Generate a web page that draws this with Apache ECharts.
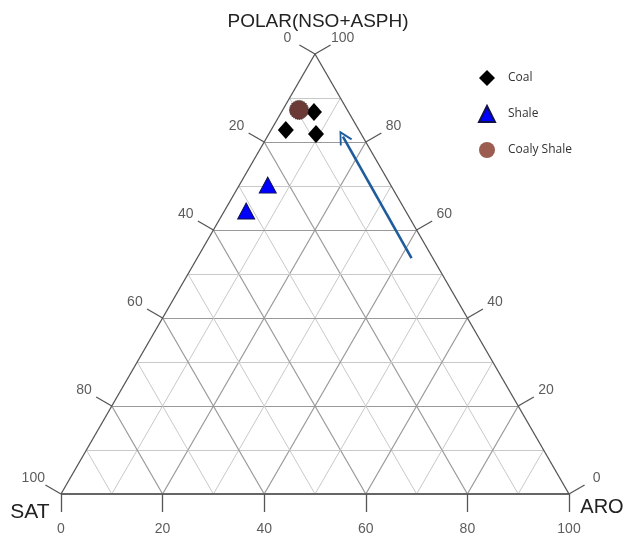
<!DOCTYPE html>
<html>
<head>
<meta charset="utf-8">
<script src="https://cdn.jsdelivr.net/npm/echarts@6/dist/echarts.min.js"></script>
<style>
  html, body { margin: 0; padding: 0; background: #fff; }
  #chart { width: 627px; height: 537px; }
</style>
</head>
<body>
<div id="chart"></div>
<script>
// Sample compositions (%): saturates, aromatics, polars (NSO + asphaltenes)
const coalSat   = [6.8, 14.4, 8.9];
const coalAro   = [6.4, 2.9, 9.3];
const coalPolar = [86.8, 82.7, 81.8];

const shaleSat   = [24.2, 31.4];
const shaleAro   = [5.6, 4.3];
const shalePolar = [70.2, 64.3];

const coalyShaleSat   = [9.5];
const coalyShaleAro   = [3.2];
const coalyShalePolar = [87.3];

// Trend arrow: start and end compositions
const arrowSat   = [4.2, 3.9];
const arrowAro   = [42.2, 14.9];
const arrowPolar = [53.6, 81.2];

const tickValues = [0, 20, 40, 60, 80, 100];
const gridSteps  = [10, 20, 30, 40, 50, 60, 70, 80, 90];

const H = Math.sqrt(3) / 2;
// ternary (sat, aro, polar) -> plane coordinates on a 0..100 wide equilateral triangle
function toXY(sat, aro, polar) {
  const t = sat + aro + polar;
  return [(aro + polar / 2) / t * 100, polar / t * 100 * H];
}
function pts(s, a, p) { return s.map((v, i) => toXY(v, a[i], p[i])); }

const PX = 508 / 100;              // pixels per plot unit
const tickLen = 18 / PX;
const labelDist = 32 / PX;
const bottomLabelDist = 35 / PX;

// grid lines
const gridLines = [];
gridSteps.forEach(k => {
  const major = k % 20 === 0;
  const lineStyle = { color: major ? '#999' : '#c9c9c9', width: major ? 1.2 : 1 };
  gridLines.push({ coords: [toXY(100 - k, 0, k), toXY(0, 100 - k, k)], lineStyle });
  gridLines.push({ coords: [toXY(100 - k, k, 0), toXY(0, k, 100 - k)], lineStyle });
  gridLines.push({ coords: [toXY(k, 100 - k, 0), toXY(k, 0, 100 - k)], lineStyle });
});
const edgeLines = [
  { coords: [toXY(100, 0, 0), toXY(0, 100, 0)], lineStyle: { color: '#666', width: 1.8 } },
  { coords: [toXY(100, 0, 0), toXY(0, 0, 100)], lineStyle: { color: '#555', width: 1.3 } },
  { coords: [toXY(0, 100, 0), toXY(0, 0, 100)], lineStyle: { color: '#555', width: 1.3 } }
];

// axis ticks and labels
const tickLines = [];
const tickLabels = [];
const dirLeft = [-H, 0.5], dirRight = [H, 0.5];
tickValues.forEach(v => {
  // left edge: saturates
  let p = toXY(v, 0, 100 - v);
  tickLines.push({ coords: [p, [p[0] + dirLeft[0] * tickLen, p[1] + dirLeft[1] * tickLen]] });
  tickLabels.push({ value: [p[0] + dirLeft[0] * labelDist, p[1] + dirLeft[1] * labelDist], label: { formatter: String(v) } });
  // right edge: polars
  p = toXY(0, 100 - v, v);
  tickLines.push({ coords: [p, [p[0] + dirRight[0] * tickLen, p[1] + dirRight[1] * tickLen]] });
  tickLabels.push({ value: [p[0] + dirRight[0] * labelDist, p[1] + dirRight[1] * labelDist], label: { formatter: String(v) } });
  // bottom edge: aromatics
  p = toXY(100 - v, v, 0);
  tickLines.push({ coords: [p, [p[0], p[1] - tickLen]] });
  tickLabels.push({ value: [p[0], p[1] - bottomLabelDist], label: { formatter: String(v) } });
});

const arrowPts = pts(arrowSat, arrowAro, arrowPolar);

const chart = echarts.init(document.getElementById('chart'), null, { renderer: 'canvas' });
const FONT = 'Liberation Sans, Arial, sans-serif';

chart.setOption({
  animation: false,
  backgroundColor: '#fff',
  grid: { left: 61, right: 58, top: 54, bottom: 43 },
  xAxis: { type: 'value', min: 0, max: 100, show: false },
  yAxis: { type: 'value', min: 0, max: 100 * H, show: false },
  graphic: [
    { type: 'text', x: 318, y: 22, style: { text: 'POLAR(NSO+ASPH)', font: '19px ' + FONT, fill: '#222', align: 'center', verticalAlign: 'middle' } },
    { type: 'text', x: 30, y: 512, style: { text: 'SAT', font: '21px ' + FONT, fill: '#222', align: 'center', verticalAlign: 'middle' } },
    { type: 'text', x: 602, y: 507, style: { text: 'ARO', font: '20px ' + FONT, fill: '#222', align: 'center', verticalAlign: 'middle' } }
  ],
  legend: {
    orient: 'vertical',
    left: 473, top: 65,
    itemWidth: 16, itemHeight: 16, itemGap: 19,
    textStyle: { fontFamily: 'Open Sans, sans-serif', fontSize: 12, color: '#333', padding: [0, 0, 0, 8] },
    data: [
      { name: 'Coal' },
      { name: 'Shale' },
      { name: 'Coaly Shale', itemStyle: { color: '#9a5d50', borderWidth: 0, opacity: 1 } }
    ]
  },
  series: [
    { type: 'lines', coordinateSystem: 'cartesian2d', silent: true, clip: false, z: 1,
      lineStyle: { width: 1, opacity: 1 }, data: gridLines },
    { type: 'lines', coordinateSystem: 'cartesian2d', silent: true, clip: false, z: 2,
      lineStyle: { opacity: 1 }, data: edgeLines },
    { type: 'lines', coordinateSystem: 'cartesian2d', silent: true, clip: false, z: 2,
      lineStyle: { color: '#555', width: 1.3, opacity: 1 }, data: tickLines },
    { type: 'scatter', silent: true, clip: false, symbolSize: 1, z: 2,
      itemStyle: { color: 'rgba(0,0,0,0)' },
      labelLayout: { hideOverlap: false },
      label: { show: true, position: 'inside', color: '#333', fontSize: 14, fontFamily: FONT },
      data: tickLabels },
    { type: 'lines', coordinateSystem: 'cartesian2d', silent: true, clip: false, z: 3,
      symbol: ['none', 'path://M0,0 L6,9 L4.6,9.6 L0,2.6 L-4.6,9.6 L-6,9 Z'], symbolSize: 14,
      lineStyle: { color: '#1f5c9c', width: 2.6, opacity: 1 },
      data: [{ coords: arrowPts }] },
    { name: 'Coal', type: 'scatter', clip: false, z: 4, symbol: 'diamond', symbolSize: [16, 18],
      itemStyle: { color: '#000', opacity: 1 },
      data: pts(coalSat, coalAro, coalPolar) },
    { name: 'Shale', type: 'scatter', clip: false, z: 4, symbol: 'triangle', symbolSize: [17, 16],
      itemStyle: { color: '#0000ff', borderColor: '#10104a', borderWidth: 1, opacity: 1 },
      data: pts(shaleSat, shaleAro, shalePolar) },
    { name: 'Coaly Shale', type: 'scatter', clip: false, z: 5, symbol: 'circle', symbolSize: 19,
      itemStyle: { color: '#6b3a37', borderColor: '#2a1818', borderWidth: 1, borderType: 'dotted', opacity: 1 },
      data: pts(coalyShaleSat, coalyShaleAro, coalyShalePolar) }
  ]
});
</script>
</body>
</html>
